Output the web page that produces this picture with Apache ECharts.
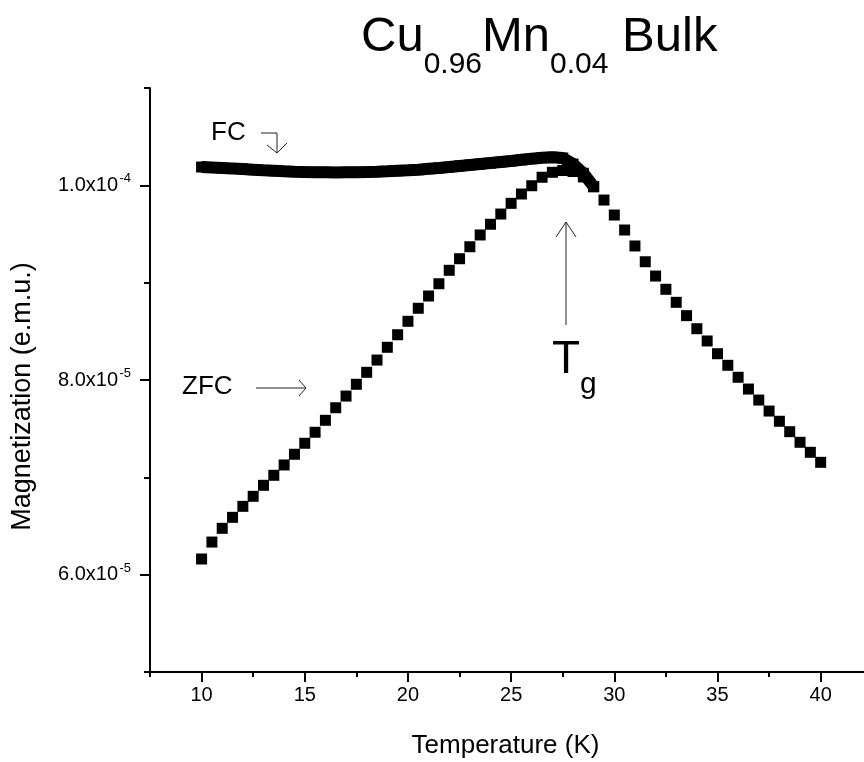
<!DOCTYPE html>
<html><head><meta charset="utf-8">
<script src="https://cdn.jsdelivr.net/npm/echarts@6/dist/echarts.min.js"></script>
<style>html,body{margin:0;padding:0;background:#fff}#c{width:864px;height:762px}</style>
</head><body><div id="c"></div>
<script>
// ZFC: temperature (K) and magnetization (e.m.u.)
const temperatureZFC = [10,10.5,11,11.5,12,12.5,13,13.5,14,14.5,15,15.5,16,16.5,17,17.5,18,18.5,19,19.5,20,20.5,21,21.5,22,22.5,23,23.5,24,24.5,25,25.5,26,26.5,27,27.5,28,28.5,29,29.5,30,30.5,31,31.5,32,32.5,33,33.5,34,34.5,35,35.5,36,36.5,37,37.5,38,38.5,39,39.5,40];
const magnetizationZFC = [6.161e-5,6.335e-5,6.476e-5,6.589e-5,6.702e-5,6.805e-5,6.918e-5,7.021e-5,7.127e-5,7.237e-5,7.350e-5,7.463e-5,7.586e-5,7.715e-5,7.835e-5,7.956e-5,8.079e-5,8.205e-5,8.336e-5,8.465e-5,8.603e-5,8.737e-5,8.863e-5,8.989e-5,9.127e-5,9.246e-5,9.369e-5,9.490e-5,9.600e-5,9.705e-5,9.815e-5,9.911e-5,9.996e-5,10.083e-5,10.134e-5,10.152e-5,10.142e-5,10.086e-5,9.986e-5,9.849e-5,9.695e-5,9.541e-5,9.377e-5,9.215e-5,9.068e-5,8.932e-5,8.798e-5,8.661e-5,8.527e-5,8.401e-5,8.270e-5,8.151e-5,8.028e-5,7.907e-5,7.794e-5,7.681e-5,7.576e-5,7.469e-5,7.360e-5,7.257e-5,7.154e-5];
// FC: temperature (K) and magnetization (e.m.u.) (merges with ZFC above ~29 K)
const temperatureFC = [10,10.5,11,11.5,12,12.5,13,13.5,14,14.5,15,15.5,16,16.5,17,17.5,18,18.5,19,19.5,20,20.5,21,21.5,22,22.5,23,23.5,24,24.5,25,25.5,26,26.5,27,27.5,28,28.5,29];
const magnetizationFC = [10.188e-5,10.183e-5,10.178e-5,10.173e-5,10.168e-5,10.161e-5,10.154e-5,10.149e-5,10.144e-5,10.140e-5,10.137e-5,10.135e-5,10.134e-5,10.133e-5,10.134e-5,10.135e-5,10.137e-5,10.140e-5,10.144e-5,10.149e-5,10.154e-5,10.161e-5,10.170e-5,10.178e-5,10.188e-5,10.199e-5,10.209e-5,10.219e-5,10.229e-5,10.240e-5,10.250e-5,10.262e-5,10.274e-5,10.284e-5,10.289e-5,10.281e-5,10.219e-5,10.124e-5,9.986e-5];
// axis ticks
const xMajorTicks = [10,15,20,25,30,35,40];
const xMinorTicks = [7.5,12.5,17.5,22.5,27.5,32.5,37.5];
const yMajorTicks = [6e-5,8e-5,1e-4];
const yMinorTicks = [5e-5,7e-5,9e-5,1.1e-4];

const FONT = 'Liberation Sans, Arial, sans-serif';
const chart = echarts.init(document.getElementById('c'), null, {renderer:'canvas'});

const mantissa = v => v.toExponential(1).split('e')[0] + 'x10';
const exponent = v => String(parseInt(v.toExponential(1).split('e')[1], 10));
const zip = (xs, ys) => xs.map((x,i)=>[x, ys[i]]);

const axisLineStyle = {color:'#000', width:2};
const yRange = {type:'value', min:5e-5, max:1.1e-4, position:'left', splitLine:{show:false}};
chart.setOption({
  animation:false,
  backgroundColor:'#fff',
  grid:{left:150, right:0, top:88, bottom:90},
  xAxis:[
    {type:'value', min:7.5, max:42.1, position:'bottom',
     axisLine:{show:true, onZero:false, lineStyle:axisLineStyle},
     axisTick:{show:true, length:10, lineStyle:{color:'#000', width:2}, customValues:xMajorTicks},
     axisLabel:{show:true, margin:13, color:'#000', fontSize:20, fontFamily:FONT, customValues:xMajorTicks},
     splitLine:{show:false}},
    {type:'value', min:7.5, max:42.1, position:'bottom',
     axisLine:{show:false},
     axisTick:{show:true, length:5, lineStyle:{color:'#000', width:2}, customValues:xMinorTicks},
     axisLabel:{show:false}, splitLine:{show:false}}
  ],
  yAxis:[
    Object.assign({}, yRange, {
     axisLine:{show:true, onZero:false, lineStyle:axisLineStyle},
     axisTick:{show:true, length:10, lineStyle:{color:'#000', width:2}, customValues:yMajorTicks},
     axisLabel:{show:true, margin:32, color:'#000', fontSize:20, fontFamily:FONT, customValues:yMajorTicks, formatter:mantissa}}),
    Object.assign({}, yRange, {
     axisLine:{show:false},
     axisTick:{show:true, length:6, lineStyle:{color:'#000', width:2}, customValues:yMinorTicks},
     axisLabel:{show:false}}),
    Object.assign({}, yRange, {
     axisLine:{show:false}, axisTick:{show:false},
     axisLabel:{show:true, margin:19, color:'#000', fontSize:13, fontFamily:FONT, verticalAlign:'bottom',
       customValues:yMajorTicks, formatter:exponent}})
  ],
  series:[
    {name:'FC', type:'line', xAxisIndex:0, yAxisIndex:0, data:zip(temperatureFC, magnetizationFC),
     symbol:'rect', symbolSize:11, showSymbol:true, itemStyle:{color:'#000', opacity:1},
     lineStyle:{color:'#000', width:12}, emphasis:{disabled:true}, silent:true, z:2},
    {name:'ZFC', type:'scatter', xAxisIndex:0, yAxisIndex:0, data:zip(temperatureZFC, magnetizationZFC),
     symbol:'rect', symbolSize:11, itemStyle:{color:'#000', opacity:1}, emphasis:{disabled:true}, silent:true, z:3}
  ],
  graphic:[
    // title
    {type:'text', x:361, y:13, silent:true, style:{
      text:'{m|Cu}{s|0.96}{m|Mn}{s|0.04}{m| Bulk}', textAlign:'left', textVerticalAlign:'top', fill:'#000',
      rich:{m:{fontSize:49, fontFamily:FONT, lineHeight:49, verticalAlign:'top', fill:'#000'},
            s:{fontSize:30, fontFamily:FONT, verticalAlign:'top', padding:[37,0,0,0], fill:'#000'}}}},
    // axis titles
    {type:'text', x:505.5, y:746, silent:true, style:{text:'Temperature (K)', font:'26px '+FONT, fill:'#000', textAlign:'center', textVerticalAlign:'middle'}},
    {type:'text', x:23, y:396.5, rotation:Math.PI/2, silent:true, style:{text:'Magnetization (e.m.u.)', font:'27px '+FONT, fill:'#000', textAlign:'center', textVerticalAlign:'middle'}},
    // FC annotation
    {type:'text', x:211, y:133, silent:true, style:{text:'FC', font:'26px '+FONT, fill:'#000', textAlign:'left', textVerticalAlign:'middle'}},
    {type:'polyline', silent:true, shape:{points:[[261,133],[277,133],[277,153]]}, style:{stroke:'#222', lineWidth:1, fill:null}},
    {type:'polyline', silent:true, shape:{points:[[267,145],[277,153],[287,143]]}, style:{stroke:'#222', lineWidth:1, fill:null}},
    // ZFC annotation
    {type:'text', x:182, y:387, silent:true, style:{text:'ZFC', font:'26px '+FONT, fill:'#000', textAlign:'left', textVerticalAlign:'middle'}},
    {type:'polyline', silent:true, shape:{points:[[256,388],[306,388]]}, style:{stroke:'#222', lineWidth:1, fill:null}},
    {type:'polyline', silent:true, shape:{points:[[299,380],[306,388],[299,396]]}, style:{stroke:'#222', lineWidth:1, fill:null}},
    // Tg annotation
    {type:'polyline', silent:true, shape:{points:[[566,222],[566,325]]}, style:{stroke:'#222', lineWidth:1, fill:null}},
    {type:'polyline', silent:true, shape:{points:[[556,237],[566,222],[576,237]]}, style:{stroke:'#222', lineWidth:1, fill:null}},
    {type:'text', x:552, y:337, silent:true, style:{
      text:'{m|T}{s|g}', textAlign:'left', textVerticalAlign:'top', fill:'#000',
      rich:{m:{fontSize:46, fontFamily:FONT, lineHeight:46, verticalAlign:'top', fill:'#000'},
            s:{fontSize:30, fontFamily:FONT, verticalAlign:'top', padding:[33,0,0,0], fill:'#000'}}}}
  ]
});
</script></body></html>
